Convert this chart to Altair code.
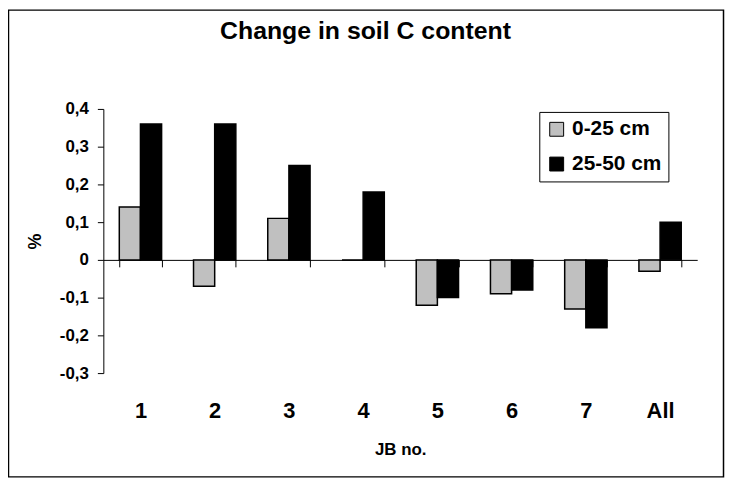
import altair as alt
import pandas as pd

categories = ["1", "2", "3", "4", "5", "6", "7", "All"]
series_names = ["0-25 cm", "25-50 cm"]
values_0_25 = [0.14, -0.07, 0.11, 0.0, -0.12, -0.09, -0.13, -0.03]
values_25_50 = [0.36, 0.36, 0.25, 0.18, -0.10, -0.08, -0.18, 0.10]
y_ticks = [-0.3, -0.2, -0.1, 0.0, 0.1, 0.2, 0.3, 0.4]

rows = []
for c, a, b in zip(categories, values_0_25, values_25_50):
    rows.append({"JB": c, "Depth": series_names[0], "Change": a})
    rows.append({"JB": c, "Depth": series_names[1], "Change": b})
df = pd.DataFrame(rows)

FONT = "Liberation Sans"

bars = alt.Chart(df).mark_bar(stroke="black", strokeWidth=1.5).encode(
    x=alt.X(
        "JB:N",
        sort=categories,
        scale=alt.Scale(paddingInner=0.43, paddingOuter=0.215),
        axis=alt.Axis(
            title="JB no.",
            orient="bottom",
            offset=-114,
            labelAngle=0,
            tickBand="extent",
            tickSize=7,
            tickColor="black",
            domainColor="black",
            labelPadding=135,
            labelFont=FONT,
            labelFontSize=22,
            labelFontWeight="bold",
            labelColor="black",
            titleFont=FONT,
            titleFontSize=17,
            titleFontWeight="bold",
            titleColor="black",
            titlePadding=20,
        ),
    ),
    xOffset=alt.XOffset(
        "Depth:N", sort=series_names,
        scale=alt.Scale(paddingInner=0, paddingOuter=0),
    ),
    y=alt.Y(
        "Change:Q",
        scale=alt.Scale(domain=[-0.3, 0.4], nice=False, zero=False),
        axis=alt.Axis(
            title="%",
            values=y_ticks,
            grid=False,
            tickSize=6,
            tickColor="black",
            domainColor="black",
            labelPadding=9,
            labelExpr="datum.value == 0 ? '0' : replace(replace(format(datum.value, '.1f'), '.', ','), '\u2212', '-')",
            labelFont=FONT,
            labelFontSize=17,
            labelFontWeight="bold",
            labelColor="black",
            titleFont=FONT,
            titleFontSize=18,
            titleFontWeight="bold",
            titleColor="black",
            titlePadding=15,
        ),
    ),
    color=alt.Color(
        "Depth:N",
        sort=series_names,
        scale=alt.Scale(domain=series_names, range=["#c0c0c0", "#000000"]),
        legend=alt.Legend(
            title=None,
            orient="none",
            legendX=439,
            legendY=3,
            symbolType="square",
            symbolSize=196,
            symbolStrokeColor="black",
            symbolStrokeWidth=1,
            symbolOpacity=1,
            labelFont=FONT,
            labelFontSize=21,
            labelFontWeight="bold",
            labelColor="black",
            labelOffset=5,
            rowPadding=13,
            padding=7,
            strokeColor="black",
            fillColor="white",
        ),
    ),
)

border = alt.Chart(alt.Data(values=[{}])).mark_rect(
    fill=None, stroke="black", strokeWidth=1.5
).encode(
    x=alt.value(-95.5), x2=alt.value(624.5),
    y=alt.value(-99.5), y2=alt.value(370.5),
)

chart = alt.layer(border, bars).properties(
    width=598,
    height=266,
    padding={"left": 96, "top": 100, "right": 28, "bottom": 105},
    autosize=alt.AutoSizeParams(type="none"),
    background="white",
    title=alt.TitleParams(
        "Change in soil C content",
        font=FONT,
        fontSize=25,
        fontWeight="bold",
        color="black",
        anchor="middle",
        frame="group",
        baseline="alphabetic",
        dx=-35,
        offset=-55,
    ),
).configure_view(stroke=None)

chart.save("out.html", embed_options={"renderer": "svg", "actions": False})
